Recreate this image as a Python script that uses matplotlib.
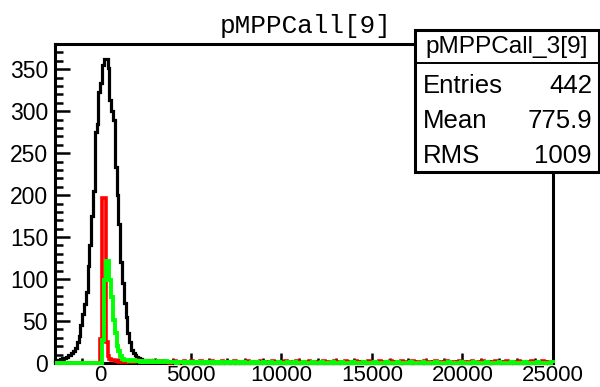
import numpy as np
import matplotlib
matplotlib.use("Agg")
import matplotlib.pyplot as plt
from matplotlib.patches import Rectangle
from matplotlib.lines import Line2D
from matplotlib.ticker import MultipleLocator

# ---------------- data ----------------
title = "pMPPCall[9]"
stats_name = "pMPPCall_3[9]"
stats_labels = ["Entries", "Mean", "RMS"]
stats_values = ["442", "775.9", "1009"]

x_min, x_max, bin_w = -2500, 25000, 100
y_max = 380
x_ticks = [0, 5000, 10000, 15000, 20000, 25000]
y_ticks = [0, 50, 100, 150, 200, 250, 300, 350]

# bins from -2500 to 3000 (55 bins of 100)
black_core = [3, 4, 4, 5, 6, 6, 7, 9, 10, 12,
              14, 18, 25, 32, 45, 58, 70, 85, 115, 140,
              175, 205, 275, 285, 323, 333, 355, 362, 362, 351,
              313, 300, 289, 233, 200, 165, 120, 95, 71, 55,
              36, 25, 15, 12, 9, 7, 6, 5, 4, 4,
              3, 4, 3, 2, 3]
red_core = [0, 0, 0, 0, 0, 0, 0, 0, 0, 0,
            0, 0, 0, 0, 0, 0, 0, 0, 0, 0,
            0, 0, 0, 0, 0, 28, 196, 196, 25, 8,
            5, 3, 3, 2, 2, 1, 2, 1, 1, 2,
            1, 1, 2, 1, 2, 3, 2, 1, 2, 1,
            2, 1, 1, 2, 1]
green_core = [0, 0, 0, 0, 0, 0, 0, 0, 0, 0,
              0, 0, 0, 0, 0, 0, 0, 0, 0, 0,
              0, 0, 0, 0, 0, 0, 27, 99, 121, 121,
              99, 79, 51, 36, 20, 14, 8, 5, 4, 3,
              3, 2, 2, 3, 2, 2, 2, 1, 2, 1,
              2, 1, 1, 2, 1]

# bins from 3000 to 25000 (220 bins of 100)
black_tail = [2, 1, 2, 1, 1, 2, 1, 1, 1, 0, 1, 1, 1, 0, 1, 1, 0, 1, 1, 0,
              1, 0, 1, 1, 0, 1, 0, 1, 0, 1, 1, 0, 0, 1, 0, 1, 0, 0, 1, 0,
              0, 1, 0, 0, 1, 0, 1, 0, 0, 1, 0, 0, 1, 0, 0, 0, 1, 0, 0, 1,
              0, 0, 1, 0, 0, 1, 0, 0, 0, 1, 0, 0, 1, 0, 0, 0, 0, 1, 0, 0,
              1, 0, 0, 0, 1, 0, 0, 0, 0, 1, 0, 0, 0, 1, 0, 0, 0, 0, 1, 0,
              0, 0, 1, 0, 0, 0, 0, 1, 0, 0, 0, 0, 1, 0, 0, 0, 1, 0, 0, 0,
              0, 1, 0, 0, 0, 0, 0, 1, 0, 0, 0, 1, 0, 0, 0, 0, 1, 0, 0, 0,
              0, 0, 1, 0, 0, 0, 0, 0, 1, 0, 0, 0, 1, 0, 0, 0, 0, 0, 1, 0,
              0, 0, 0, 1, 0, 0, 0, 0, 0, 1, 0, 0, 0, 0, 1, 0, 0, 0, 0, 0,
              1, 0, 0, 0, 0, 1, 0, 0, 0, 0, 0, 1, 0, 0, 0, 0, 0, 1, 0, 0,
              0, 0, 0, 1, 0, 0, 0, 0, 0, 1, 0, 0, 0, 0, 0, 0, 1, 0, 0, 0]
red_tail = [2, 1, 2, 1, 1, 2, 1, 1, 0, 1, 1, 2, 1, 0, 1, 1, 2, 1, 0, 1,
            2, 1, 0, 1, 1, 2, 0, 1, 1, 0, 1, 2, 1, 0, 1, 1, 0, 2, 1, 0,
            1, 1, 0, 1, 2, 1, 0, 1, 1, 0, 1, 2, 0, 1, 0, 1, 1, 0, 2, 1,
            0, 1, 1, 0, 1, 2, 0, 1, 1, 0, 1, 1, 2, 0, 1, 1, 0, 1, 2, 1,
            0, 1, 1, 0, 1, 2, 0, 1, 0, 1, 1, 0, 1, 2, 0, 1, 1, 0, 1, 2,
            0, 1, 0, 1, 1, 2, 0, 1, 1, 0, 1, 2, 1, 0, 1, 0, 1, 1, 2, 0,
            1, 1, 0, 1, 2, 0, 1, 1, 0, 1, 2, 1, 0, 1, 0, 1, 2, 0, 1, 1,
            0, 1, 2, 1, 0, 1, 1, 0, 1, 2, 0, 1, 1, 0, 1, 2, 0, 1, 1, 0,
            1, 2, 1, 0, 1, 1, 0, 1, 2, 0, 1, 1, 0, 1, 1, 2, 0, 1, 1, 0,
            1, 2, 0, 1, 1, 0, 1, 1, 2, 0, 1, 1, 0, 1, 2, 0, 1, 1, 0, 1,
            1, 2, 0, 1, 1, 0, 1, 0, 2, 1, 0, 1, 1, 0, 2, 1, 0, 1, 1, 0]
green_tail = [1, 1, 2, 1, 1, 1, 2, 1, 1, 1, 1, 1, 0, 1, 1, 1, 0, 1, 1, 0,
              1, 1, 0, 1, 0, 1, 1, 0, 1, 0, 1, 0, 0, 1, 0, 1, 0, 1, 0, 0,
              1, 0, 0, 1, 0, 0, 1, 0, 0, 1, 0, 0, 0, 1, 0, 0, 1, 0, 0, 0,
              1, 0, 0, 0, 1, 0, 0, 0, 1, 0, 0, 0, 0, 1, 0, 0, 0, 1, 0, 0,
              0, 0, 1, 0, 0, 0, 0, 1, 0, 0, 0, 0, 1, 0, 0, 0, 0, 0, 1, 0,
              0, 0, 0, 1, 0, 0, 0, 0, 0, 1, 0, 0, 0, 0, 0, 1, 0, 0, 0, 0,
              0, 1, 0, 0, 0, 0, 0, 0, 1, 0, 0, 0, 0, 0, 1, 0, 0, 0, 0, 0,
              0, 1, 0, 0, 0, 0, 0, 0, 1, 0, 0, 0, 0, 0, 0, 1, 0, 0, 0, 0,
              0, 0, 1, 0, 0, 0, 0, 0, 0, 1, 0, 0, 0, 0, 0, 0, 1, 0, 0, 0,
              0, 0, 0, 1, 0, 0, 0, 0, 0, 0, 1, 0, 0, 0, 0, 0, 0, 1, 0, 0,
              0, 0, 0, 0, 1, 0, 0, 0, 0, 0, 0, 1, 0, 0, 0, 0, 0, 0, 0, 1]

# ---------------- figure ----------------
W, H, DPI = 600, 387, 100
fig = plt.figure(figsize=(W / DPI, H / DPI), dpi=DPI)
fig.patch.set_facecolor("white")

def fx(px):
    return px / W

def fy(py):
    return (H - py) / H

L, R, T, B = 55, 553, 44, 363
ax = fig.add_axes([fx(L), fy(B), fx(R) - fx(L), fy(T) - fy(B)])

edges = np.arange(x_min, x_max + bin_w, bin_w)
black = np.array(black_core + black_tail)
red = np.array(red_core + red_tail)
green = np.array(green_core + green_tail)

ax.stairs(black, edges, color="black", lw=2.3, zorder=3, clip_on=False)
ax.stairs(red, edges, color="#ff0000", lw=2.6, zorder=4, clip_on=False)
ax.stairs(green, edges, color="#00ff00", lw=2.8, zorder=5, clip_on=False)

ax.set_xlim(x_min, x_max)
ax.set_ylim(0, y_max)

sans = ["Liberation Sans", "DejaVu Sans"]
ax.set_xticks(x_ticks)
ax.set_yticks(y_ticks)
ax.set_xticklabels([str(v) for v in x_ticks], fontfamily=sans, fontsize=16)
ax.set_yticklabels([str(v) for v in y_ticks], fontfamily=sans, fontsize=16.5)
ax.xaxis.set_minor_locator(MultipleLocator(1000))
ax.yaxis.set_minor_locator(MultipleLocator(10))
ax.tick_params(axis="x", which="major", direction="in", length=7.5, width=1.8, pad=1.5, top=False)
ax.tick_params(axis="x", which="minor", direction="in", length=3.8, width=1.8, top=False)
ax.tick_params(axis="y", which="major", direction="in", length=10.8, width=1.8, pad=5, right=False)
ax.tick_params(axis="y", which="minor", direction="in", length=5.4, width=1.8, right=False)
for s in ax.spines.values():
    s.set_linewidth(2.2)

# title
fig.text(fx(306), fy(33), title, ha="center", va="baseline",
         fontfamily=["Liberation Mono", "DejaVu Sans Mono"], fontsize=18.8)

# stats box
bx0, bx1, by0, by1 = 415, 599, 30, 172
box = Rectangle((fx(bx0), fy(by1)), fx(bx1) - fx(bx0), fy(by0) - fy(by1),
                transform=fig.transFigure, facecolor="white", edgecolor="black",
                lw=2.2, zorder=10)
fig.patches.append(box)
fig.lines.append(Line2D([fx(bx0), fx(bx1)], [fy(63), fy(63)], transform=fig.transFigure,
                        color="black", lw=1.4, zorder=11))
fig.text(fx((bx0 + bx1) / 2), fy(53), stats_name, ha="center", va="baseline",
         fontfamily=sans, fontsize=17.6, zorder=12)
rows = [93, 128, 163]
for lab, val, yb in zip(stats_labels, stats_values, rows):
    fig.text(fx(423), fy(yb), lab, ha="left", va="baseline", fontfamily=sans,
             fontsize=18.5, zorder=12)
    fig.text(fx(592), fy(yb), val, ha="right", va="baseline", fontfamily=sans,
             fontsize=18.5, zorder=12)

fig.savefig("out.png", dpi=DPI)
